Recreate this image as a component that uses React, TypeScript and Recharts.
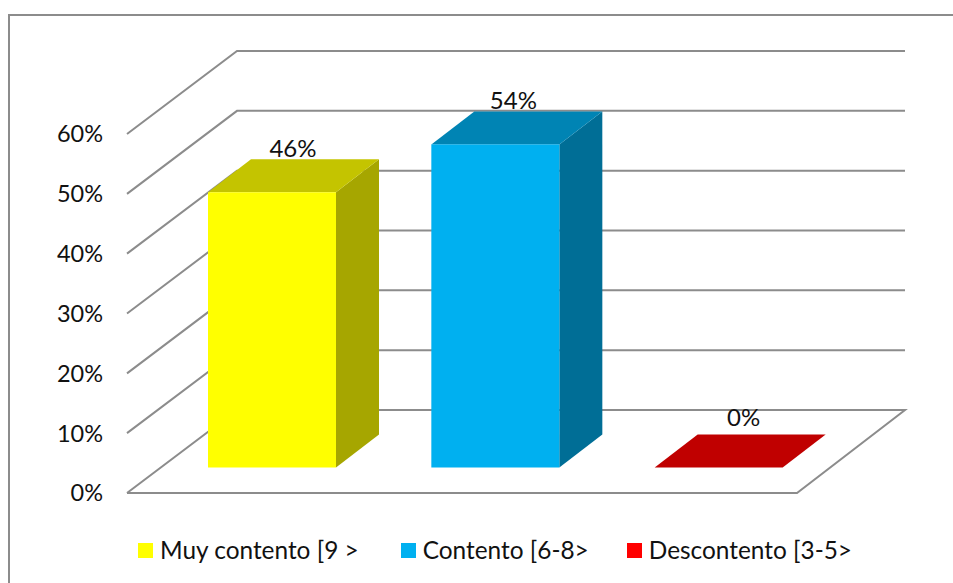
import { Bar, BarChart, CartesianGrid, Cell, LabelList, Legend, XAxis, YAxis } from 'recharts'

const categories = ['Muy contento [9 >', 'Contento [6-8>', 'Descontento [3-5>']
const values = [46, 54, 0]
const yTicks = [0, 10, 20, 30, 40, 50, 60]

const frontColors = ['#FFFF00', '#00B0F0', '#FF0000']
const topColors = ['#C4C400', '#0084B4', '#C00000']
const sideColors = ['#A6A600', '#006E96', '#A00000']

const GRID_COLOR = '#8C8C8C'
const FONT = 'Lato, sans-serif'

// 3D look: how far the back wall, the bar front and the bar depth sit from the front plane
const WALL = { dx: 110, dy: -83 }
const BAR_SHIFT = { dx: 33, dy: -25.5 }
const BAR_DEPTH = { dx: 43, dy: -33 }

// labels in the original do not sit quite centred
const labelNudge = [
    { dx: 21, dy: -35 },
    { dx: 18, dy: -35 },
    { dx: 25, dy: -42 },
]
const legendGaps = [42, 38, 0]

const chartData = categories.map((name, i) => ({ name, value: values[i] }))

function GridLine(props: any) {
    const { x1, x2, y1, y, height } = props
    const backY = y1 + WALL.dy
    const isFloor = Math.abs(y1 - (y + height)) < 0.5
    let d = `M${x1},${y1} L${x1 + WALL.dx},${backY} L${x2 + WALL.dx - 2},${backY}`
    if (isFloor) {
        d += ` L${x2},${y1} L${x1},${y1}`
    }
    return <path d={d} fill="none" stroke={GRID_COLOR} strokeWidth={2} />
}

function Bar3D(props: any) {
    const { x, y, width, height, index } = props
    const left = x + BAR_SHIFT.dx
    const top = y + BAR_SHIFT.dy
    const right = left + width
    const bottom = top + height
    const { dx, dy } = BAR_DEPTH
    return (
        <g>
            <path
                d={`M${right},${top} L${right + dx},${top + dy} L${right + dx},${bottom + dy} L${right},${bottom} Z`}
                fill={sideColors[index]}
            />
            <path
                d={`M${left},${top} L${left + dx},${top + dy} L${right + dx},${top + dy} L${right},${top} Z`}
                fill={topColors[index]}
            />
            <rect x={left} y={top} width={width} height={height} fill={frontColors[index]} />
        </g>
    )
}

function ValueLabel(props: any) {
    const { x, y, width, index, value } = props
    const nudge = labelNudge[index]
    return (
        <text
            x={x + BAR_SHIFT.dx + width / 2 + nudge.dx}
            y={y + BAR_SHIFT.dy + nudge.dy}
            textAnchor="middle"
            fontFamily={FONT}
            fontSize={24}
            fill="#111"
        >
            {value}%
        </text>
    )
}

function LegendRow() {
    return (
        <div style={{ display: 'flex', alignItems: 'center', fontFamily: FONT, fontSize: 24.4, color: '#111', lineHeight: '26px' }}>
            {categories.map((name, i) => (
                <div key={name} style={{ display: 'flex', alignItems: 'center', marginRight: legendGaps[i], whiteSpace: 'nowrap' }}>
                    <span style={{ width: 15, height: 15, background: frontColors[i], marginRight: 7 }} />
                    {name}
                </div>
            ))}
        </div>
    )
}

export default function App() {
    return (
        <div style={{ position: 'absolute', left: 0, top: 0, width: 953, height: 583, overflow: 'hidden', background: '#fff' }}>
            <div style={{ position: 'absolute', left: 8, top: 14, width: 980, height: 600, border: `2px solid ${GRID_COLOR}` }} />
            <BarChart
                width={953}
                height={583}
                data={chartData}
                barCategoryGap={95}
                margin={{ top: 134, right: 156, bottom: 50, left: 67 }}
            >
                <CartesianGrid vertical={false} horizontal={GridLine} />
                <XAxis dataKey="name" hide />
                <YAxis
                    width={60}
                    domain={[0, 60]}
                    ticks={yTicks}
                    tickFormatter={(v: number) => `${v}%`}
                    axisLine={false}
                    tickLine={false}
                    tick={{ fontFamily: FONT, fontSize: 23.5, fill: '#111' }}
                    tickMargin={18}
                />
                <Legend
                    height={40}
                    content={LegendRow}
                    wrapperStyle={{ top: 537, bottom: 'auto', left: 138, width: 800 }}
                />
                <Bar dataKey="value" barSize={128} shape={Bar3D} isAnimationActive={false}>
                    {chartData.map((d, i) => (
                        <Cell key={d.name} fill={frontColors[i]} />
                    ))}
                    <LabelList dataKey="value" content={ValueLabel} />
                </Bar>
            </BarChart>
        </div>
    )
}
